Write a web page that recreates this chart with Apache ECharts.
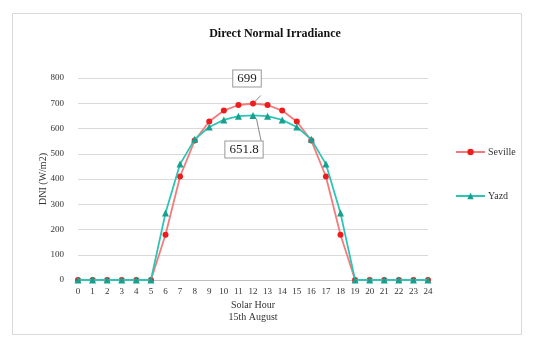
<!DOCTYPE html>
<html>
<head>
<meta charset="utf-8">
<script src="https://cdn.jsdelivr.net/npm/echarts@6/dist/echarts.min.js"></script>
<style>html,body{margin:0;padding:0;background:#fff}#c{width:550px;height:345px}</style>
</head>
<body>
<div id="c"></div>
<script>
const hours = ['0','1','2','3','4','5','6','7','8','9','10','11','12','13','14','15','16','17','18','19','20','21','22','23','24'];
const seville = [0,0,0,0,0,0,179,410,552,628,671,693,699,693,671,628,552,410,179,0,0,0,0,0,0];
const yazd = [0,0,0,0,0,0,265,459,557,606,634,649,651.8,649,634,606,557,459,265,0,0,0,0,0,0];
const yTicks = [0,100,200,300,400,500,600,700,800];

const font = 'Liberation Serif';
const chart = echarts.init(document.getElementById('c'));

function withLabel(arr, idx, offset) {
  return arr.map((v, i) => {
    if (i !== idx) return v;
    return {
      value: v,
      label: {
        show: true,
        formatter: String(v),
        position: 'inside',
        offset: offset,
        fontFamily: font,
        fontSize: 13,
        color: '#222',
        backgroundColor: '#fff',
        borderColor: '#999',
        borderWidth: 1,
        padding: [2, 4, 1, 4]
      },
      labelLine: { show: true, lineStyle: { color: '#888', width: 1 } }
    };
  });
}

chart.setOption({
  animation: false,
  backgroundColor: '#fff',
  graphic: [{
    type: 'rect', shape: { x: 12.5, y: 13.5, width: 509, height: 321 },
    style: { fill: 'none', stroke: '#d9d9d9', lineWidth: 1 }, silent: true, z: -1
  }],
  title: {
    text: 'Direct Normal Irradiance', left: 'center', top: 23,
    textStyle: { fontFamily: font, fontSize: 12, fontWeight: 'bold', color: '#111' }
  },
  legend: {
    orient: 'vertical', left: 450, top: 142, itemGap: 34,
    itemWidth: 29, itemHeight: 8,
    textStyle: { fontFamily: font, fontSize: 10, color: '#333', padding: [0, 0, 0, -2] },
    data: ['Seville', 'Yazd']
  },
  grid: { left: 78, right: 122, top: 78, bottom: 65 },
  xAxis: {
    type: 'category', data: hours, boundaryGap: false,
    name: 'Solar Hour\n15th August', nameLocation: 'middle', nameGap: 19,
    nameMoveOverlap: false,
    nameTextStyle: { fontFamily: font, fontSize: 10, color: '#333', lineHeight: 12 },
    axisLine: { lineStyle: { color: '#bfbfbf' } },
    axisTick: { show: false },
    axisLabel: { fontFamily: font, fontSize: 9, color: '#333', margin: 7 }
  },
  yAxis: {
    type: 'value', min: 0, max: 800, interval: 100,
    name: 'DNI (W/m2)', nameLocation: 'middle', nameGap: 30,
    nameMoveOverlap: false,
    nameTextStyle: { fontFamily: font, fontSize: 10, color: '#333' },
    axisLine: { show: false }, axisTick: { show: false },
    splitLine: { lineStyle: { color: '#d9d9d9' } },
    axisLabel: { fontFamily: font, fontSize: 9, color: '#333', margin: 14,
      formatter: v => yTicks.includes(v) ? String(v) : '' }
  },
  series: [{
    name: 'Seville', type: 'line', data: withLabel(seville, 12, [-6, -25]),
    symbol: 'circle', symbolSize: 6, smooth: false,
    lineStyle: { color: '#f47b7b', width: 1.8 },
    itemStyle: { color: '#ee1c1c' }, z: 3
  }, {
    name: 'Yazd', type: 'line', data: withLabel(yazd, 12, [-9, 34]),
    symbol: 'triangle', symbolSize: 7, smooth: false,
    lineStyle: { color: '#2ec4b6', width: 1.8 },
    itemStyle: { color: '#15a08f' }, z: 4
  }]
});
</script>
</body>
</html>
